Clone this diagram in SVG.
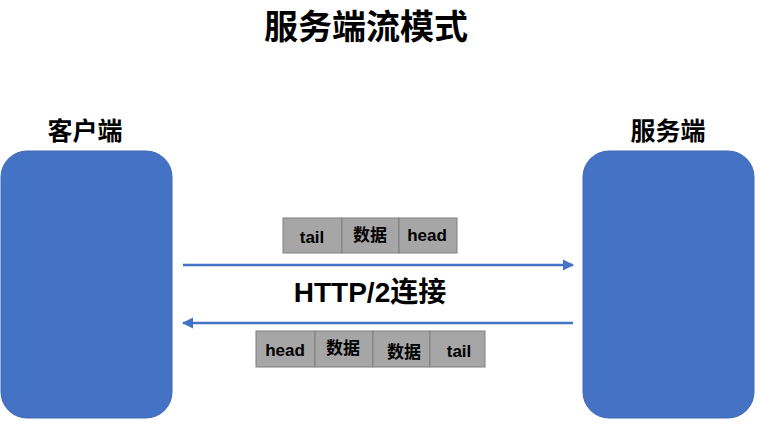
<svg xmlns="http://www.w3.org/2000/svg" width="760" height="426" viewBox="0 0 760 426">
<style>
.t{font-family:"Liberation Sans","Noto Sans CJK SC",sans-serif;font-weight:bold;fill:#000;text-anchor:middle}
.box{fill:#4472C4;stroke:#3F69B3;stroke-width:1}
.pk{fill:#A6A6A6;stroke:#7F7F7F;stroke-width:1}
.ln{stroke:#4472C4;stroke-width:2.5;fill:none}
</style>
<defs>
<marker id="ah" viewBox="0 0 10 10" refX="9" refY="5" markerWidth="4.5" markerHeight="4.5" orient="auto-start-reverse" markerUnits="strokeWidth">
<path d="M0,0 L10,5 L0,10 Z" fill="#4472C4"/>
</marker>
</defs>
<rect width="760" height="426" fill="#fff"/>
<text class="t" x="366" y="39" font-size="34">服务端流模式</text>
<g id="client">
<rect class="box" x="1" y="151" width="171" height="267" rx="26"/>
<text class="t" x="85" y="140" font-size="25">客户端</text>
</g>
<g id="server">
<rect class="box" x="583" y="151" width="171" height="267" rx="26"/>
<text class="t" x="668" y="140" font-size="25">服务端</text>
</g>
<g id="packets-top">
<rect class="pk" x="283" y="218" width="59" height="35"/>
<rect class="pk" x="342" y="218" width="57" height="35"/>
<rect class="pk" x="399" y="218" width="58" height="35"/>
<text class="t" x="312" y="243" font-size="17">tail</text>
<text class="t" x="370" y="241" font-size="17">数据</text>
<text class="t" x="427" y="241" font-size="17">head</text>
</g>
<g id="packets-bottom">
<rect class="pk" x="256" y="331" width="59" height="36"/>
<rect class="pk" x="315" y="331" width="58" height="36"/>
<rect class="pk" x="373" y="331" width="57" height="36"/>
<rect class="pk" x="430" y="331" width="55" height="36"/>
<text class="t" x="285" y="356" font-size="17">head</text>
<text class="t" x="343" y="354" font-size="17">数据</text>
<text class="t" x="404" y="358" font-size="17">数据</text>
<text class="t" x="459" y="357" font-size="17">tail</text>
</g>
<g id="connectors">
<line class="ln" x1="183" y1="265" x2="573" y2="265" marker-end="url(#ah)"/>
<line class="ln" x1="573" y1="323" x2="183" y2="323" marker-end="url(#ah)"/>
<text class="t" x="370" y="302" font-size="28">HTTP/2连接</text>
</g>
</svg>
